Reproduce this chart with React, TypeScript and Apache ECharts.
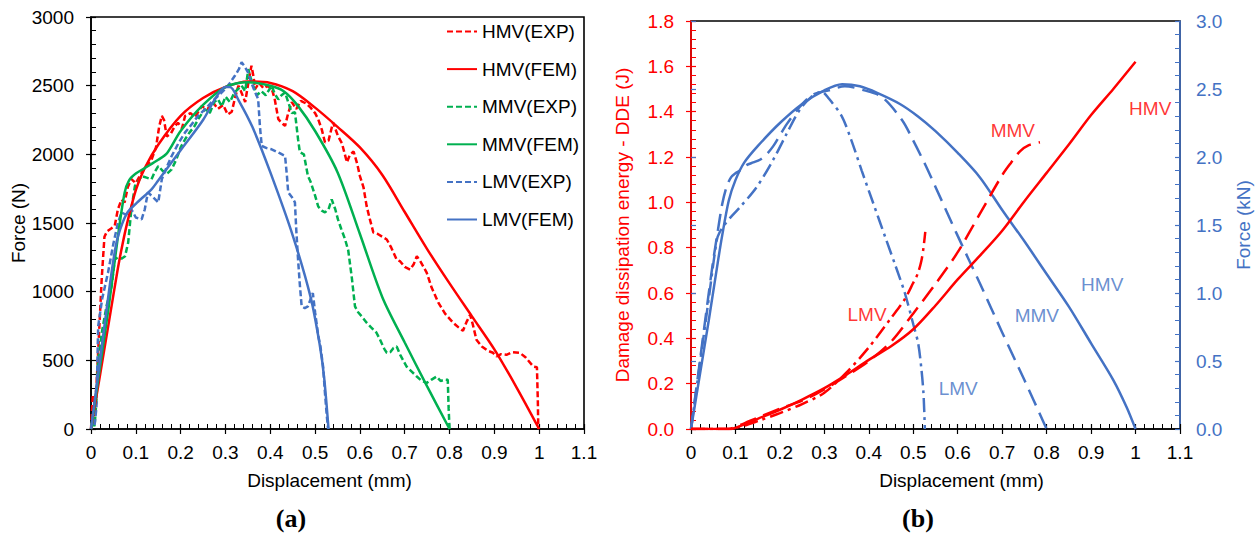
import React, { useEffect, useRef } from "react";
import * as echarts from "echarts";

const RED = "#FF0000";
const GREEN = "#00B050";
const BLUE = "#4472C4";
const FONT = "'Liberation Sans', Arial, sans-serif";
const FS = 19;

// ---------- Chart (a): Force (N) vs Displacement (mm) ----------
const xTicksA = { min: 0, max: 1.1, interval: 0.1 };
const yTicksA = { min: 0, max: 3000, interval: 500 };

const hmvExp: number[][] = [
  [0, 0], [0.004, 240], [0.008, 180], [0.012, 300], [0.018, 700], [0.024, 1100], [0.03, 1400], [0.036, 1440],
  [0.045, 1460], [0.053, 1480], [0.06, 1600], [0.068, 1670], [0.075, 1650], [0.082, 1760], [0.09, 1820], [0.1, 1790],
  [0.11, 1850], [0.12, 1900], [0.135, 1960], [0.145, 2050], [0.152, 2200], [0.158, 2280], [0.163, 2250], [0.169, 2130],
  [0.178, 2150], [0.186, 2200], [0.194, 2230], [0.203, 2190], [0.21, 2280], [0.222, 2300], [0.232, 2270], [0.247, 2350],
  [0.26, 2330], [0.272, 2380], [0.283, 2330], [0.295, 2360], [0.305, 2290], [0.314, 2310], [0.322, 2420], [0.329, 2500],
  [0.337, 2440], [0.344, 2380], [0.35, 2500], [0.358, 2645], [0.363, 2560], [0.366, 2475], [0.375, 2520], [0.385, 2480],
  [0.395, 2500], [0.405, 2460], [0.41, 2400], [0.418, 2256], [0.425, 2230], [0.433, 2207], [0.44, 2300], [0.448, 2380],
  [0.458, 2330], [0.468, 2390], [0.48, 2370], [0.49, 2340], [0.5, 2300], [0.507, 2256], [0.515, 2180], [0.522, 2088],
  [0.53, 2100], [0.54, 2233], [0.551, 2134], [0.56, 2080], [0.571, 1942], [0.578, 2000], [0.586, 2020], [0.594, 1930],
  [0.6, 1842], [0.608, 1760], [0.615, 1623], [0.622, 1530], [0.63, 1431], [0.64, 1420], [0.65, 1400], [0.66, 1380],
  [0.67, 1320], [0.682, 1234], [0.69, 1220], [0.7, 1180], [0.712, 1161], [0.72, 1200], [0.727, 1258], [0.735, 1220],
  [0.749, 1139], [0.76, 1030], [0.775, 920], [0.79, 840], [0.808, 774], [0.82, 740], [0.83, 715], [0.838, 780],
  [0.846, 832], [0.852, 760], [0.86, 650], [0.872, 601], [0.885, 570], [0.897, 555], [0.905, 528], [0.915, 545],
  [0.927, 540], [0.94, 560], [0.957, 555], [0.97, 520], [0.987, 455], [0.995, 450], [0.997, 200], [0.998, 0],
];
const hmvFem: number[][] = [
  [0, 0], [0.02, 390], [0.04, 780], [0.06, 1170], [0.07, 1340], [0.08, 1490], [0.1, 1740], [0.12, 1900], [0.15, 2070],
  [0.2, 2280], [0.25, 2410], [0.3, 2490], [0.35, 2530], [0.4, 2520], [0.45, 2460], [0.5, 2340], [0.55, 2200],
  [0.6, 2050], [0.65, 1850], [0.7, 1580], [0.75, 1310], [0.8, 1060], [0.85, 820], [0.9, 580], [0.95, 300], [1.0, 0],
];
const mmvExp: number[][] = [
  [0, 0], [0.004, 60], [0.008, 20], [0.012, 200], [0.016, 500], [0.025, 720], [0.035, 900], [0.046, 1039],
  [0.053, 1234], [0.06, 1250], [0.068, 1240], [0.076, 1258], [0.083, 1358], [0.09, 1599], [0.098, 1769], [0.105, 1800],
  [0.113, 1842], [0.124, 1830], [0.135, 1818], [0.142, 1870], [0.15, 1915], [0.16, 1880], [0.17, 1860], [0.18, 1890],
  [0.19, 1960], [0.2, 2050], [0.21, 2110], [0.22, 2160], [0.23, 2200], [0.24, 2260], [0.254, 2329], [0.265, 2300],
  [0.275, 2380], [0.283, 2402], [0.292, 2350], [0.3, 2420], [0.31, 2380], [0.32, 2450], [0.336, 2500], [0.344, 2460],
  [0.351, 2620], [0.356, 2560], [0.362, 2500], [0.37, 2430], [0.38, 2460], [0.39, 2430], [0.403, 2500], [0.41, 2440],
  [0.418, 2400], [0.425, 2430], [0.433, 2450], [0.44, 2380], [0.448, 2300], [0.455, 2307], [0.462, 2110], [0.466, 2015],
  [0.475, 2000], [0.484, 1842], [0.49, 1800], [0.5, 1700], [0.507, 1620], [0.515, 1590], [0.522, 1577], [0.53, 1600],
  [0.537, 1672], [0.545, 1600], [0.551, 1526], [0.558, 1460], [0.567, 1380], [0.574, 1300], [0.582, 1100], [0.589, 893],
  [0.596, 850], [0.604, 820], [0.615, 774], [0.625, 740], [0.637, 701], [0.645, 650], [0.655, 580], [0.66, 555],
  [0.668, 560], [0.675, 590], [0.682, 601], [0.69, 540], [0.704, 455], [0.715, 420], [0.727, 382], [0.738, 350],
  [0.749, 336], [0.76, 360], [0.771, 382], [0.78, 350], [0.79, 360], [0.796, 358], [0.798, 150], [0.8, 0],
];
const mmvFem: number[][] = [
  [0, 0], [0.02, 450], [0.04, 900], [0.06, 1400], [0.075, 1720], [0.085, 1810], [0.1, 1860], [0.12, 1900],
  [0.15, 1960], [0.17, 2010], [0.2, 2170], [0.25, 2360], [0.3, 2490], [0.35, 2525], [0.4, 2500], [0.43, 2460],
  [0.46, 2360], [0.5, 2170], [0.55, 1870], [0.6, 1420], [0.65, 960], [0.7, 630], [0.75, 310], [0.8, 0],
];
const lmvExp: number[][] = [
  [0, 0], [0.004, 80], [0.008, 30], [0.012, 150], [0.016, 747], [0.025, 950], [0.038, 1139], [0.05, 1350],
  [0.06, 1500], [0.068, 1577], [0.078, 1560], [0.09, 1600], [0.1, 1540], [0.113, 1526], [0.12, 1600], [0.127, 1723],
  [0.138, 1690], [0.15, 1650], [0.158, 1818], [0.168, 1900], [0.18, 1988], [0.195, 2080], [0.21, 2160], [0.225, 2220],
  [0.239, 2280], [0.255, 2330], [0.269, 2380], [0.285, 2430], [0.299, 2475], [0.31, 2520], [0.321, 2572], [0.33, 2620],
  [0.336, 2670], [0.343, 2640], [0.35, 2598], [0.358, 2520], [0.366, 2453], [0.373, 2402], [0.377, 2200], [0.381, 2061],
  [0.392, 2045], [0.403, 2037], [0.42, 2010], [0.433, 1988], [0.437, 1850], [0.44, 1723], [0.448, 1690], [0.455, 1650],
  [0.458, 1450], [0.462, 1234], [0.466, 1050], [0.47, 893], [0.477, 880], [0.484, 893], [0.495, 990], [0.5, 850],
  [0.507, 680], [0.512, 600], [0.518, 450], [0.522, 263], [0.526, 100], [0.529, 0],
];
const lmvFem: number[][] = [
  [0, 0], [0.02, 500], [0.04, 1000], [0.05, 1230], [0.06, 1400], [0.08, 1570], [0.1, 1640], [0.135, 1745],
  [0.15, 1810], [0.2, 2030], [0.25, 2250], [0.28, 2420], [0.3, 2490], [0.31, 2490], [0.33, 2390], [0.36, 2200],
  [0.4, 1870], [0.45, 1410], [0.49, 960], [0.51, 620], [0.52, 380], [0.53, 0],
];

// ---------- Chart (b): DDE (J) and Force (kN) vs Displacement (mm) ----------
const xTicksB = { min: 0, max: 1.1, interval: 0.1 };
const ddeTicks = { min: 0, max: 1.8, interval: 0.2 };
const forceTicks = { min: 0, max: 3.0, interval: 0.5 };

const hmvDde: number[][] = [
  [0, 0], [0.09, 0], [0.1, 0.005], [0.12, 0.02], [0.15, 0.045], [0.2, 0.085], [0.25, 0.13], [0.3, 0.18],
  [0.35, 0.24], [0.4, 0.305], [0.45, 0.365], [0.5, 0.44], [0.55, 0.545], [0.6, 0.66], [0.65, 0.765], [0.7, 0.875],
  [0.75, 1.005], [0.8, 1.13], [0.85, 1.255], [0.9, 1.385], [0.95, 1.5], [1.0, 1.62],
];
const mmvDde: number[][] = [
  [0, 0], [0.085, 0], [0.1, 0.01], [0.12, 0.025], [0.15, 0.05], [0.2, 0.09], [0.25, 0.125], [0.3, 0.175],
  [0.35, 0.235], [0.4, 0.3], [0.45, 0.385], [0.5, 0.51], [0.55, 0.64], [0.6, 0.78], [0.65, 0.95], [0.7, 1.12],
  [0.72, 1.175], [0.74, 1.225], [0.76, 1.252], [0.785, 1.265],
];
const lmvDde: number[][] = [
  [0, 0], [0.09, 0], [0.1, 0.005], [0.12, 0.015], [0.15, 0.035], [0.2, 0.07], [0.25, 0.11], [0.3, 0.16],
  [0.35, 0.25], [0.4, 0.36], [0.45, 0.49], [0.48, 0.57], [0.5, 0.645], [0.51, 0.685], [0.518, 0.74], [0.523, 0.8],
  [0.527, 0.87],
];
const hmvForce: number[][] = [
  [0, 0], [0.02, 0.4], [0.04, 0.8], [0.06, 1.22], [0.07, 1.42], [0.085, 1.68], [0.1, 1.83], [0.12, 1.96],
  [0.15, 2.08], [0.2, 2.25], [0.25, 2.39], [0.3, 2.49], [0.34, 2.535], [0.38, 2.52], [0.42, 2.47], [0.47, 2.39],
  [0.51, 2.3], [0.55, 2.19], [0.6, 2.03], [0.65, 1.85], [0.7, 1.61], [0.75, 1.38], [0.8, 1.14], [0.85, 0.9],
  [0.9, 0.63], [0.95, 0.36], [0.98, 0.16], [1.0, 0],
];
const mmvForce: number[][] = [
  [0, 0], [0.02, 0.5], [0.04, 1.0], [0.05, 1.24], [0.06, 1.45], [0.07, 1.65], [0.08, 1.78], [0.09, 1.85],
  [0.1, 1.88], [0.11, 1.9], [0.125, 1.94], [0.14, 1.96], [0.155, 1.98], [0.17, 2.02], [0.185, 2.08], [0.2, 2.16],
  [0.215, 2.24], [0.245, 2.37], [0.275, 2.46], [0.31, 2.49], [0.346, 2.52], [0.39, 2.49], [0.43, 2.44], [0.475, 2.27],
  [0.5, 2.12], [0.526, 1.95], [0.55, 1.78], [0.6, 1.42], [0.65, 1.07], [0.7, 0.71], [0.75, 0.36], [0.8, 0],
];
const lmvForce: number[][] = [
  [0, 0], [0.02, 0.48], [0.04, 0.96], [0.058, 1.39], [0.065, 1.45], [0.075, 1.5], [0.09, 1.56], [0.11, 1.63],
  [0.148, 1.78], [0.185, 1.98], [0.215, 2.17], [0.245, 2.35], [0.27, 2.44], [0.294, 2.48], [0.31, 2.43], [0.339, 2.3],
  [0.36, 2.13], [0.384, 1.9], [0.41, 1.66], [0.437, 1.41], [0.46, 1.2], [0.481, 1.0], [0.5, 0.77], [0.511, 0.63],
  [0.518, 0.45], [0.523, 0.26], [0.526, 0],
];

// annotation labels in chart (b): [name, x, value]
const ddeLabels: [string, number, number][] = [
  ["HMV", 1.033, 1.416],
  ["MMV", 0.724, 1.319],
  ["LMV", 0.396, 0.507],
];
const forceLabels: [string, number, number][] = [
  ["HMV", 0.925, 1.059],
  ["MMV", 0.778, 0.831],
  ["LMV", 0.601, 0.3],
];

const legendNames = ["HMV(EXP)", "HMV(FEM)", "MMV(EXP)", "MMV(FEM)", "LMV(EXP)", "LMV(FEM)"];

function makeAxis(o: any) {
  const color = o.color || "#000";
  const base: any = {
    type: "value",
    gridIndex: o.grid,
    position: o.position,
    min: o.ticks.min,
    max: o.ticks.max,
    interval: o.ticks.interval,
    splitLine: { show: false },
    minorSplitLine: { show: false },
  };
  if (o.overlay) {
    return {
      ...base,
      axisLine: { show: false },
      axisLabel: { show: false },
      axisTick: { show: true, inside: false, length: 5, lineStyle: { color, width: 1.2 } },
      minorTick: { show: false },
    };
  }
  return {
    ...base,
    name: o.name,
    nameLocation: "middle",
    nameGap: o.nameGap,
    nameTextStyle: { fontSize: FS, color, fontFamily: FONT, padding: o.namePadding || 0 },
    axisLine: { show: true, onZero: false, lineStyle: { color, width: 1.6 } },
    axisTick: { show: true, inside: true, length: 5, lineStyle: { color, width: 1.2 } },
    minorTick: { show: true, splitNumber: 5, length: 5, lineStyle: { color, width: 1 } },
    axisLabel: {
      fontSize: FS,
      color,
      fontFamily: FONT,
      margin: o.margin,
      formatter: o.formatter || ((v: number) => String(Math.round(v * 1000) / 1000)),
    },
  };
}

export default function App() {
  const ref = useRef<HTMLDivElement>(null);
  useEffect(() => {
    const chart = echarts.init(ref.current!, null, { renderer: "svg" });
    const fix1 = (v: number) => v.toFixed(1);
    const expLine = (name: string, data: number[][], color: string) => ({
      name,
      type: "line",
      xAxisIndex: 0,
      yAxisIndex: 0,
      data,
      symbol: "none",
      lineStyle: { color, width: 2.5, type: [6, 3] },
      itemStyle: { color },
      z: 3,
    });
    const femLine = (name: string, data: number[][], color: string) => ({
      name,
      type: "line",
      xAxisIndex: 0,
      yAxisIndex: 0,
      data,
      symbol: "none",
      smooth: 0.3,
      lineStyle: { color, width: 2.5, type: "solid" },
      itemStyle: { color },
      z: 4,
    });
    const bLine = (name: string, data: number[][], color: string, yIdx: number, dash: any) => ({
      name,
      type: "line",
      xAxisIndex: 2,
      yAxisIndex: yIdx,
      data,
      symbol: "none",
      smooth: 0.3,
      lineStyle: { color, width: 2.5, type: dash },
      itemStyle: { color },
      z: 3,
    });
    const labelSeries = (name: string, items: [string, number, number][], color: string, yIdx: number) => ({
      name,
      type: "scatter",
      xAxisIndex: 2,
      yAxisIndex: yIdx,
      symbolSize: 1,
      itemStyle: { color: "rgba(0,0,0,0)" },
      data: items.map(([n, x, y]) => ({ name: n, value: [x, y] })),
      label: { show: true, position: "inside", formatter: "{b}", color, fontSize: FS, fontFamily: FONT },
      z: 5,
    });
    const longDash = [17, 8];
    const dashDot = [14, 5, 3, 5];

    const option: any = {
      animation: false,
      backgroundColor: "#fff",
      grid: [
        { left: 91, top: 17, width: 493, height: 412, show: true, borderColor: "#000", borderWidth: 1.6, backgroundColor: "transparent", outerBoundsMode: "none", containLabel: false },
        { left: 691, top: 21, width: 489, height: 408, show: true, borderColor: "#000", borderWidth: 1.6, backgroundColor: "transparent", outerBoundsMode: "none", containLabel: false },
      ],
      xAxis: [
        makeAxis({ grid: 0, position: "bottom", ticks: xTicksA, name: "Displacement (mm)", nameGap: 42, margin: 14, namePadding: [0, 16, 0, 0] }),
        makeAxis({ grid: 0, position: "bottom", ticks: xTicksA, overlay: true }),
        makeAxis({ grid: 1, position: "bottom", ticks: xTicksB, name: "Displacement (mm)", nameGap: 42, margin: 14, namePadding: [0, 0, 0, 52] }),
        makeAxis({ grid: 1, position: "bottom", ticks: xTicksB, overlay: true }),
      ],
      yAxis: [
        makeAxis({ grid: 0, position: "left", ticks: yTicksA, name: "Force (N)", nameGap: 63, margin: 17 }),
        makeAxis({ grid: 1, position: "left", ticks: ddeTicks, name: "Damage dissipation energy - DDE (J)", nameGap: 59, margin: 17, color: RED, formatter: fix1 }),
        makeAxis({ grid: 1, position: "right", ticks: forceTicks, name: "Force (kN)", nameGap: 54, margin: 16, color: BLUE, formatter: fix1 }),
        makeAxis({ grid: 0, position: "left", ticks: yTicksA, overlay: true }),
        makeAxis({ grid: 1, position: "left", ticks: ddeTicks, overlay: true, color: RED }),
        makeAxis({ grid: 1, position: "right", ticks: forceTicks, overlay: true, color: BLUE }),
      ],
      legend: {
        data: legendNames,
        orient: "vertical",
        left: 441,
        top: 17,
        itemWidth: 30,
        itemHeight: 16,
        itemGap: 18.6,
        itemStyle: { opacity: 0 },
        textStyle: { fontSize: FS, color: "#000", fontFamily: FONT },
      },
      series: [
        expLine("HMV(EXP)", hmvExp, RED),
        femLine("HMV(FEM)", hmvFem, RED),
        expLine("MMV(EXP)", mmvExp, GREEN),
        femLine("MMV(FEM)", mmvFem, GREEN),
        expLine("LMV(EXP)", lmvExp, BLUE),
        femLine("LMV(FEM)", lmvFem, BLUE),
        bLine("HMV force", hmvForce, BLUE, 2, "solid"),
        bLine("MMV force", mmvForce, BLUE, 2, longDash),
        bLine("LMV force", lmvForce, BLUE, 2, dashDot),
        bLine("HMV DDE", hmvDde, RED, 1, "solid"),
        bLine("MMV DDE", mmvDde, RED, 1, longDash),
        bLine("LMV DDE", lmvDde, RED, 1, dashDot),
        labelSeries("DDE labels", ddeLabels, RED, 1),
        labelSeries("Force labels", forceLabels, BLUE, 2),
      ],
      graphic: [
        { type: "text", x: 291, y: 518, style: { text: "(a)", fill: "#000", font: "bold 26px 'Liberation Serif', 'Times New Roman', serif", align: "center", verticalAlign: "middle" } },
        { type: "text", x: 918, y: 518, style: { text: "(b)", fill: "#000", font: "bold 26px 'Liberation Serif', 'Times New Roman', serif", align: "center", verticalAlign: "middle" } },
      ],
    };
    chart.setOption(option);
    return () => chart.dispose();
  }, []);
  return (
    <div
      ref={ref}
      style={{ position: "absolute", left: 0, top: 0, width: 1255, height: 535, background: "#fff" }}
    />
  );
}
